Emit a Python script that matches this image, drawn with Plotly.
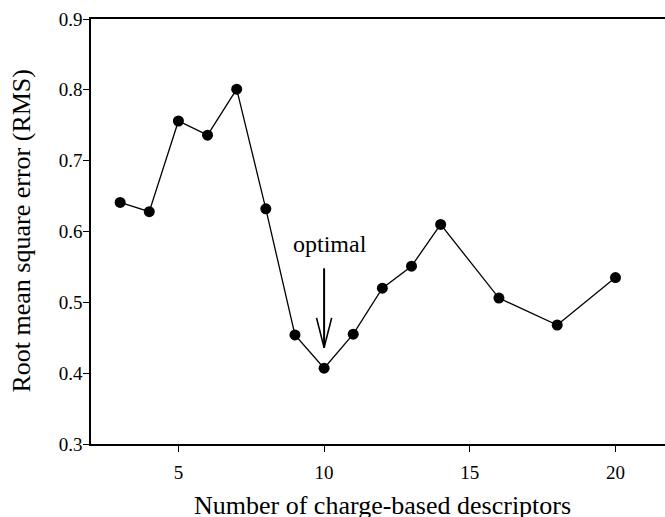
import plotly.graph_objects as go

# RMS error versus number of charge-based descriptors
n_descriptors = [3, 4, 5, 6, 7, 8, 9, 10, 11, 12, 13, 14, 16, 18, 20]
rms_error = [0.641, 0.628, 0.756, 0.736, 0.801, 0.632, 0.454, 0.407,
             0.455, 0.520, 0.551, 0.610, 0.506, 0.468, 0.535]

x_ticks = [5, 10, 15, 20]
y_ticks = [0.3, 0.4, 0.5, 0.6, 0.7, 0.8, 0.9]

# "optimal" call-out: arrow pointing down at the minimum
opt_x = 10
arrow_tail = 0.548
arrow_tip = 0.436
wing_level = 0.478
wing_half = 0.26
label_level = 0.583

FONT = "Liberation Serif"

fig = go.Figure()
fig.add_trace(go.Scatter(
    x=n_descriptors, y=rms_error, mode="lines+markers",
    line=dict(color="black", width=1.3),
    marker=dict(color="black", size=11),
    showlegend=False, cliponaxis=False,
))

arrow_line = dict(color="black", width=1.6)
fig.add_shape(type="line", xref="x", yref="y", x0=opt_x, x1=opt_x,
              y0=arrow_tail, y1=arrow_tip, line=dict(color="black", width=2))
fig.add_shape(type="line", xref="x", yref="y", x0=opt_x - wing_half, x1=opt_x,
              y0=wing_level, y1=arrow_tip, line=arrow_line)
fig.add_shape(type="line", xref="x", yref="y", x0=opt_x + wing_half, x1=opt_x,
              y0=wing_level, y1=arrow_tip, line=arrow_line)

fig.add_annotation(x=opt_x, y=label_level, xref="x", yref="y", xshift=6,
                   text="optimal", showarrow=False,
                   font=dict(family=FONT, size=24, color="black"))

# axis titles
fig.add_annotation(x=0.508, y=0, xref="paper", yref="paper", yshift=-61,
                   xanchor="center", yanchor="middle",
                   text="Number of charge-based descriptors", showarrow=False,
                   font=dict(family=FONT, size=26, color="black"))
fig.add_annotation(x=0, y=0.5, xref="paper", yref="paper", xshift=-70,
                   xanchor="center", yanchor="middle",
                   text="Root mean square error (RMS)", textangle=-90,
                   showarrow=False, font=dict(family=FONT, size=26, color="black"))

fig.update_layout(
    template="none",
    width=665, height=517,
    margin=dict(l=91, r=0, t=19, b=73),
    paper_bgcolor="white", plot_bgcolor="white",
    font=dict(family=FONT, size=19, color="black"),
)
fig.update_xaxes(range=[2, 21.7], tickvals=x_ticks, ticks="outside", ticklen=6,
                 tickwidth=1.3, tickcolor="black", showline=True,
                 linecolor="black", linewidth=1.5, mirror=True, showgrid=False,
                 zeroline=False, ticklabelstandoff=4,
                 tickfont=dict(family=FONT, size=19, color="black"))
fig.update_yaxes(range=[0.3, 0.9], tickvals=y_ticks, tickformat=".1f",
                 ticks="outside", ticklen=6, tickwidth=1.3, tickcolor="black",
                 showline=True, linecolor="black", linewidth=1.5, showgrid=False,
                 zeroline=False, ticklabelstandoff=-3,
                 tickfont=dict(family=FONT, size=19, color="black"))

fig.write_html("out.html")
